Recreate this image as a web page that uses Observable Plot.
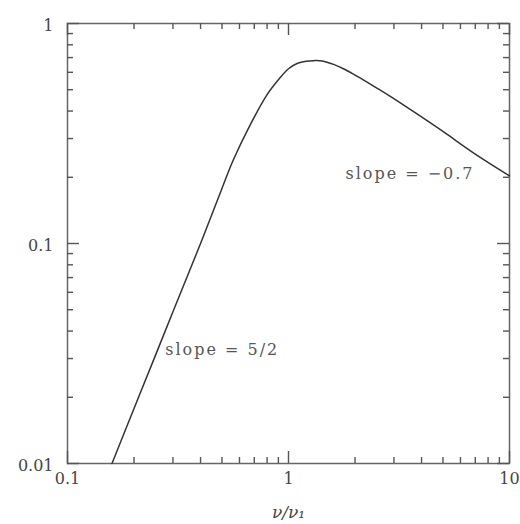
<!DOCTYPE html>
<html><head><meta charset="utf-8">
<script src="https://cdn.jsdelivr.net/npm/d3@7"></script>
<script src="https://cdn.jsdelivr.net/npm/@observablehq/plot@0.6"></script>
<style>body{margin:0;background:#fff}</style>
</head><body><div id="chart"></div>
<script>
// Curve (nu/nu_1, flux)
const nu   = [0.159, 0.2,    0.25,  0.3,   0.4,  0.5,   0.56,  0.67,  0.8,   0.9,   1.0,   1.1,  1.2,   1.3,   1.42,  1.6,   1.8,   2.05,  2.5,  2.9,   3.8,   5.0,   7.0,   10.0];
const flux = [0.01,  0.0178, 0.031, 0.049, 0.10, 0.178, 0.237, 0.345, 0.475, 0.555, 0.623, 0.66, 0.674, 0.678, 0.676, 0.652, 0.618, 0.575, 0.51, 0.465, 0.389, 0.323, 0.255, 0.203];

const xMajor = [0.1, 1, 10];
const xMinor = [0.2,0.3,0.4,0.5,0.6,0.7,0.8,0.9,2,3,4,5,6,7,8,9];
const yMajor = [0.01, 0.1, 1];
const yMinor = [0.02,0.03,0.04,0.05,0.06,0.07,0.08,0.09,0.2,0.3,0.4,0.5,0.6,0.7,0.8,0.9];
const xTickLabels = ["0.1", "1", "10"];
const yTickLabels = ["0.01", "0.1", "1"];
const xTitle = "ν/ν₁";

const noteText = ["slope = 5/2", "slope = −0.7"];
const noteX = [0.277, 1.81];
const noteY = [0.0327, 0.208];

const curve = nu.map((v, i) => ({nu: v, f: flux[i]}));
const notes = noteText.map((t, i) => ({t, x: noteX[i], y: noteY[i]}));

const W = 520, H = 524, mL = 67, mR = 11, mT = 23, mB = 61;
const innerW = W - mL - mR, innerH = H - mT - mB;
const tickColor = "#555";
const font = "DejaVu Serif";
const majorTick = 12, minorTick = 6;

function xTicks(values, len) {
  return [
    Plot.tickX(values, {x: d => d, insetTop: innerH - len, stroke: tickColor, strokeWidth: 1.4}),
    Plot.tickX(values, {x: d => d, insetBottom: innerH - len, stroke: tickColor, strokeWidth: 1.4})
  ];
}
function yTicks(values, len) {
  return [
    Plot.tickY(values, {y: d => d, insetRight: innerW - len, stroke: tickColor, strokeWidth: 1.4}),
    Plot.tickY(values, {y: d => d, insetLeft: innerW - len, stroke: tickColor, strokeWidth: 1.4})
  ];
}

const chart = Plot.plot({
  width: W,
  height: H,
  marginLeft: mL,
  marginRight: mR,
  marginTop: mT,
  marginBottom: mB,
  style: {fontFamily: font, fontSize: "16px", background: "#fff", color: "#444"},
  x: {type: "log", domain: [0.1, 10]},
  y: {type: "log", domain: [0.01, 1]},
  marks: [
    Plot.axisX({ticks: xMajor, anchor: "bottom", tickSize: 0, tickPadding: 9, label: null,
      tickFormat: d => xTickLabels[xMajor.indexOf(d)], fill: "#444"}),
    Plot.axisY({ticks: yMajor, anchor: "left", tickSize: 0, tickPadding: 14, label: null,
      tickFormat: d => yTickLabels[yMajor.indexOf(d)], fill: "#444", dy: 2}),
    Plot.frame({stroke: "#666", strokeWidth: 1.5}),
    ...xTicks(xMajor, majorTick), ...xTicks(xMinor, minorTick),
    ...yTicks(yMajor, majorTick), ...yTicks(yMinor, minorTick),
    Plot.line(curve, {x: "nu", y: "f", stroke: "#333", strokeWidth: 1.5, curve: "catmull-rom"}),
    Plot.text(notes, {x: "x", y: "y", text: "t", textAnchor: "start", lineAnchor: "middle", fill: "#555", fontSize: 16}),
    Plot.text([xTitle], {frameAnchor: "bottom", dy: 49, text: d => d, fill: "#444", fontSize: 17, fontStyle: "italic", lineAnchor: "middle"})
  ]
});
d3.select(chart).selectAll("text").filter(function(){ return this.textContent.startsWith("slope"); })
  .style("letter-spacing", "2px");
document.getElementById("chart").appendChild(chart);
</script>
</body></html>
